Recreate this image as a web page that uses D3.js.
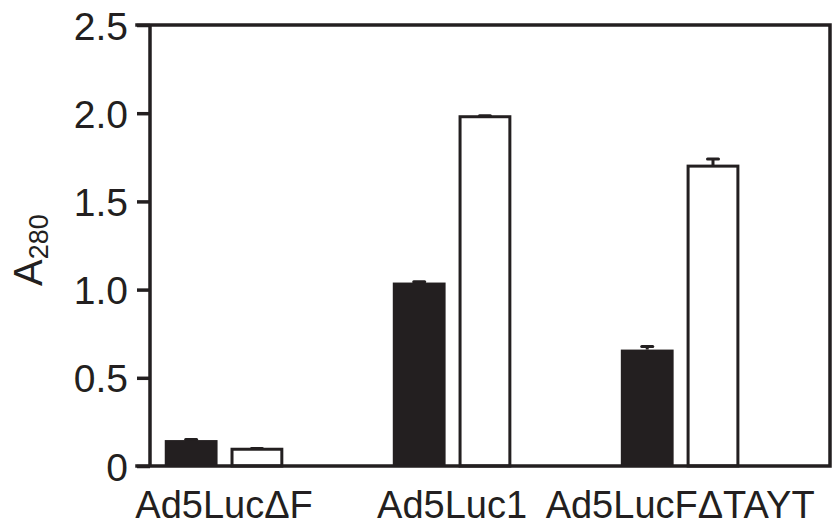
<!DOCTYPE html>
<html>
<head>
<meta charset="utf-8">
<script src="https://cdn.jsdelivr.net/npm/d3@7"></script>
<style>
  html, body { margin: 0; padding: 0; background: #fff; }
  svg { display: block; }
  text { font-family: "Liberation Sans", Arial, Helvetica, sans-serif; fill: #231f20; }
</style>
</head>
<body>
<svg id="chart" width="832" height="525"></svg>
<script>
// ---- data ----
const categories = ["Ad5Luc\u0394F", "Ad5Luc1", "Ad5LucF\u0394TAYT"];
const seriesNames = ["filled", "open"];
const filledValues = [0.147, 1.04, 0.66];
const filledErrors = [0.003, 0.004, 0.017];
const openValues = [0.095, 1.98, 1.70];
const openErrors = [0.004, 0.006, 0.04];
const yTicks = [0, 0.5, 1.0, 1.5, 2.0, 2.5];

// ---- layout ----
const ink = "#231f20";
const plotL = 150, plotR = 830, plotT = 25, plotB = 466;
const svg = d3.select("#chart");

const y = d3.scaleLinear().domain([0, 2.5]).range([plotB, plotT]);
const x0 = d3.scaleBand().domain(categories).range([plotL, plotR])
  .paddingInner(0.48).paddingOuter(0.231).align(0.14);
const x1 = d3.scaleBand().domain(seriesNames).range([0, x0.bandwidth()])
  .paddingInner(0.197).paddingOuter(0);

const rows = [];
categories.forEach((c, i) => {
  rows.push({cat: c, s: "filled", v: filledValues[i], e: filledErrors[i]});
  rows.push({cat: c, s: "open", v: openValues[i], e: openErrors[i]});
});

// error bars (drawn first so bar covers the lower half)
const eb = svg.append("g");
const capW = 11;
const cx = d => x0(d.cat) + x1(d.s) + x1.bandwidth() / 2;
eb.selectAll("line.v").data(rows).enter().append("line").attr("class", "v")
  .attr("x1", cx).attr("x2", cx)
  .attr("y1", d => y(d.v))
  .attr("y2", d => y(d.v + d.e))
  .attr("stroke", ink).attr("stroke-width", 3);
eb.selectAll("line.c").data(rows).enter().append("line").attr("class", "c")
  .attr("x1", d => cx(d) - capW / 2)
  .attr("x2", d => cx(d) + capW / 2)
  .attr("y1", d => y(d.v + d.e))
  .attr("y2", d => y(d.v + d.e))
  .attr("stroke", ink).attr("stroke-width", 3).attr("stroke-linecap", "round");

// bars
svg.append("g").selectAll("rect").data(rows).enter().append("rect")
  .attr("x", d => x0(d.cat) + x1(d.s) + (d.s === "open" ? 1.5 : 0))
  .attr("width", d => x1.bandwidth() - (d.s === "open" ? 3 : 0))
  .attr("y", d => y(d.v))
  .attr("height", d => y(0) - y(d.v))
  .attr("fill", d => d.s === "filled" ? ink : "#fff")
  .attr("stroke", d => d.s === "filled" ? "none" : ink)
  .attr("stroke-width", 3);

// y axis
const yAxis = d3.axisLeft(y).tickValues(yTicks).tickSize(13).tickPadding(9)
  .tickFormat(d => d === 0 ? "0" : d3.format(".1f")(d));
const gy = svg.append("g").attr("transform", `translate(${plotL},0)`).call(yAxis);
gy.select(".domain").remove();
gy.selectAll(".tick line").attr("stroke", ink).attr("stroke-width", 3.5);
gy.selectAll(".tick text").attr("font-size", 39).attr("fill", ink)
  .attr("font-family", '"Liberation Sans", Arial, sans-serif').attr("dy", "0.36em");

// frame
svg.append("path")
  .attr("d", `M${plotL - 13},${plotT}H${plotR}V${plotB}H${plotL - 13}M${plotL},${plotT}V${plotB}`)
  .attr("fill", "none").attr("stroke", ink).attr("stroke-width", 3.5)
  .attr("stroke-linecap", "square");

// x axis labels
const xAxis = d3.axisBottom(x0).tickSize(0).tickPadding(0);
const gx = svg.append("g").attr("transform", `translate(0,${plotB})`).call(xAxis);
gx.select(".domain").remove();
gx.selectAll(".tick text").attr("font-size", 38).attr("fill", ink)
  .attr("font-family", '"Liberation Sans", Arial, sans-serif')
  .attr("y", 52).attr("dy", 0);

// y label
const yl = svg.append("text")
  .attr("transform", "translate(42,250) rotate(-90)")
  .attr("text-anchor", "middle")
  .attr("font-size", 40);
yl.append("tspan").text("A");
yl.append("tspan").attr("font-size", 27).attr("dy", 6).text("280");
</script>
</body>
</html>
